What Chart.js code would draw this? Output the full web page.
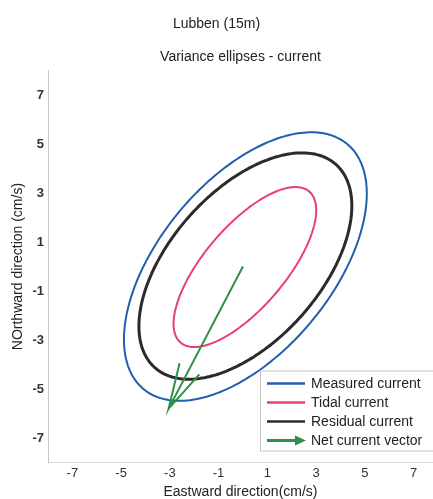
<!DOCTYPE html>
<html lang="en">
<head>
<meta charset="UTF-8">
<title>Lubben (15m) - variance ellipses</title>
<script src="https://cdn.jsdelivr.net/npm/chart.js@4.4.1/dist/chart.umd.min.js"></script>
<style>
	html, body { margin: 0; padding: 0; background: #fff; overflow: hidden; }
	#wrap { width: 433px; height: 499px; }
</style>
</head>
<body>
<div id="wrap"><canvas id="chart"></canvas></div>

<script>
	const seriesNames = ['Measured current', 'Tidal current', 'Residual current', 'Net current vector'];
	const seriesColors = ['#1f5fae', '#e8416b', '#2b2b2b', '#2f8f46'];
	const seriesWidths = [2, 2, 3, 2];

	// ellipse parameters (cm/s, major axis angle in degrees from east)
	// order: measured, tidal, residual
	const ellipseCenterX = [0.1, 0.08, 0.1];
	const ellipseCenterY = [0, -0.02, 0.02];
	const semiMajor = [6.52, 4.06, 5.57];
	const semiMinor = [3.52, 1.66, 3.07];
	const majorAngle = [50, 49.4, 48];

	// net current vector: origin -> tip, then the two head barbs
	const netVectorX = [0, -3.05, -2.6, -3.05, -1.79];
	const netVectorY = [0, -5.8, -3.95, -5.8, -4.4];

	const xTicks = [-7, -5, -3, -1, 1, 3, 5, 7];
	const yTicks = [7, 5, 3, 1, -1, -3, -5, -7];

	const FONT = "'Liberation Sans', Arial, sans-serif";

	function ellipse(i) {
		const pts = [];
		const t = majorAngle[i] * Math.PI / 180;
		for (let k = 0; k <= 120; k++) {
			const p = k / 120 * 2 * Math.PI;
			const u = semiMajor[i] * Math.cos(p);
			const v = semiMinor[i] * Math.sin(p);
			pts.push({
				x: ellipseCenterX[i] + u * Math.cos(t) - v * Math.sin(t),
				y: ellipseCenterY[i] + u * Math.sin(t) + v * Math.cos(t)
			});
		}
		return pts;
	}

	// small tension keeps chart.js off its fast path, which flattens closed curves
	const datasets = [0, 1, 2].map(i => ({
		label: seriesNames[i],
		data: ellipse(i),
		borderColor: seriesColors[i],
		borderWidth: seriesWidths[i],
		showLine: true,
		pointRadius: 0,
		tension: 0.01,
		order: 3 - i
	}));
	datasets.push({
		label: seriesNames[3],
		data: netVectorX.map((x, i) => ({ x: x, y: netVectorY[i] })),
		borderColor: seriesColors[3],
		borderWidth: seriesWidths[3],
		showLine: true,
		pointRadius: 0,
		tension: 0,
		order: 0
	});

	// legend box sitting in the lower right corner of the plot
	const boxLegend = {
		id: 'boxLegend',
		afterDraw(chart) {
			const ctx = chart.ctx;
			const area = chart.chartArea;
			const left = area.right - 173, top = area.bottom - 92;
			ctx.save();
			ctx.fillStyle = '#fff';
			ctx.strokeStyle = '#c4c4c4';
			ctx.lineWidth = 1;
			ctx.fillRect(left, top, 200, 80);
			ctx.strokeRect(left + 0.5, top + 0.5, 200, 80);
			ctx.font = '14px ' + FONT;
			ctx.textBaseline = 'middle';
			seriesNames.forEach((name, i) => {
				const y = top + 13 + i * 19;
				ctx.strokeStyle = seriesColors[i];
				ctx.lineWidth = i == 3 ? 3 : 2.5;
				ctx.beginPath();
				ctx.moveTo(left + 7, y);
				ctx.lineTo(left + (i == 3 ? 37 : 45), y);
				ctx.stroke();
				if (i == 3) {
					ctx.fillStyle = seriesColors[i];
					ctx.beginPath();
					ctx.moveTo(left + 46, y);
					ctx.lineTo(left + 35, y - 5);
					ctx.lineTo(left + 35, y + 5);
					ctx.closePath();
					ctx.fill();
				}
				ctx.fillStyle = '#222';
				ctx.fillText(name, left + 51, y + 1);
			});
			ctx.restore();
		}
	};

	const ctx = document.getElementById('chart').getContext('2d');
	new Chart(ctx, {
		type: 'scatter',
		data: { datasets: datasets },
		plugins: [boxLegend],
		options: {
			responsive: true,
			maintainAspectRatio: false,
			animation: false,
			layout: { padding: 0 },
			plugins: {
				legend: { display: false },
				tooltip: { enabled: false },
				title: {
					display: true,
					text: 'Lubben (15m)',
					color: '#222',
					font: { family: FONT, size: 14, weight: 'normal' },
					padding: { top: 16, bottom: 16 }
				},
				subtitle: {
					display: true,
					text: 'Variance ellipses - current',
					color: '#222',
					fullSize: false,
					font: { family: FONT, size: 14, weight: 'normal' },
					padding: { top: 0, bottom: 5 }
				}
			},
			scales: {
				x: {
					type: 'linear',
					min: -8,
					max: 7.8,
					afterBuildTicks: s => { s.ticks = xTicks.map(v => ({ value: v })); },
					afterFit: s => { s.height = 36.5; },
					grid: { display: false, drawTicks: false },
					border: { display: true, color: '#dcdcdc', dash: [1, 3] },
					ticks: { color: '#333', font: { family: FONT, size: 13 }, padding: 3, maxRotation: 0 },
					title: {
						display: true,
						text: 'Eastward direction(cm/s)',
						color: '#222',
						font: { family: FONT, size: 14, lineHeight: 1 },
						padding: { top: 0, bottom: 0 }
					}
				},
				y: {
					type: 'linear',
					min: -8,
					max: 8,
					afterBuildTicks: s => { s.ticks = yTicks.map(v => ({ value: v })); },
					afterFit: s => { s.width = 48; },
					grid: { display: false, drawTicks: false },
					border: { display: true, color: '#c8c8c8' },
					ticks: { color: '#333', font: { family: FONT, size: 13, weight: 'bold' }, padding: 4 },
					title: {
						display: true,
						text: 'NOrthward direction (cm/s)',
						color: '#222',
						font: { family: FONT, size: 14, lineHeight: 1 },
						padding: { top: 11, bottom: 0 }
					}
				}
			}
		}
	});
</script>
</body>
</html>
